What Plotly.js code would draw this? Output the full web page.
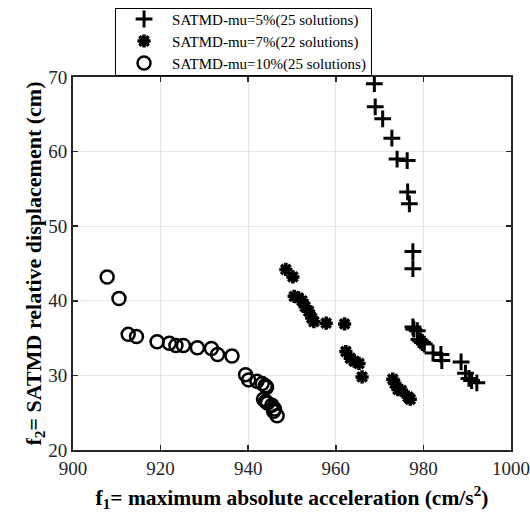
<!DOCTYPE html>
<html><head><meta charset="utf-8">
<script src="https://cdn.plot.ly/plotly-3.0.1.min.js"></script>
<style>body{margin:0;padding:0;background:#fff}#chart{width:530px;height:522px}</style>
</head><body><div id="chart"></div>
<script>
const names = ['SATMD-mu=5%(25 solutions)', 'SATMD-mu=7%(22 solutions)', 'SATMD-mu=10%(25 solutions)'];
const mu5_x = [968.8, 969.0, 970.7, 972.8, 974.0, 976.3, 976.4, 976.8, 977.6, 977.6, 977.6, 977.8, 978.6, 979.0, 979.4, 979.8, 980.2, 982.2, 984.0, 984.2, 988.6, 989.6, 990.4, 991.0, 992.2];
const mu5_y = [69.1, 66.0, 64.4, 61.8, 59.0, 58.8, 54.6, 53.0, 46.6, 44.3, 36.5, 36.2, 36.0, 34.8, 34.6, 34.4, 34.2, 33.0, 32.8, 32.0, 31.8, 30.3, 29.6, 29.3, 29.0];
const mu7_x = [948.6, 950.2, 950.5, 951.5, 952.3, 953.0, 953.8, 954.5, 955.0, 957.8, 962.0, 962.3, 963.3, 964.2, 965.3, 966.0, 973.0, 973.5, 974.2, 975.0, 976.5, 977.0];
const mu7_y = [44.2, 43.2, 40.6, 40.4, 40.0, 39.2, 38.6, 37.7, 37.2, 37.0, 36.9, 33.2, 32.3, 31.9, 31.6, 29.8, 29.5, 28.9, 28.1, 28.0, 27.1, 26.8];
const mu10_x = [907.8, 910.5, 912.6, 914.5, 919.2, 922.0, 923.5, 925.2, 928.4, 931.6, 933.0, 936.3, 939.4, 940.1, 942.0, 943.2, 943.9, 944.2, 943.5, 944.0, 944.4, 945.4, 946.0, 945.8, 946.6];
const mu10_y = [43.2, 40.3, 35.5, 35.2, 34.5, 34.3, 34.0, 34.0, 33.7, 33.6, 32.8, 32.6, 30.1, 29.4, 29.2, 28.9, 28.6, 28.4, 26.8, 26.5, 26.3, 26.0, 25.5, 25.2, 24.6];
const xTicks = [900, 920, 940, 960, 980, 1000];
const yTicks = [20, 30, 40, 50, 60, 70];

const serif = 'Liberation Serif, Times New Roman, serif';
const traces = [
  {x: mu5_x, y: mu5_y, name: names[0], mode: 'markers', type: 'scatter',
   marker: {symbol: 'cross-thin-open', size: 12, color: '#000', line: {width: 3, color: '#000'}}},
  {x: mu7_x, y: mu7_y, name: names[1], mode: 'markers', type: 'scatter',
   marker: {symbol: 'asterisk-open', size: 11, color: '#000', line: {width: 3.5, color: '#000'}}},
  {x: mu10_x, y: mu10_y, name: names[2], mode: 'markers', type: 'scatter',
   marker: {symbol: 'circle-open', size: 13, color: '#000', line: {width: 2.5, color: '#000'}}}
];
const axisCommon = {
  showline: true, mirror: 'ticks', linecolor: '#262626', linewidth: 2,
  ticks: 'inside', ticklen: 5, tickwidth: 1.5, tickcolor: '#262626',
  showgrid: true, gridcolor: '#e6e6e6', gridwidth: 1, zeroline: false,
  tickfont: {family: serif, size: 19, color: '#262626'}
};
const layout = {
  width: 530, height: 522,
  font: {family: serif},
  margin: {l: 73, r: 19, t: 77, b: 72, autoexpand: false},
  paper_bgcolor: '#fff', plot_bgcolor: '#fff',
  showlegend: true,
  legend: {x: 0.096, y: 1.185, xanchor: 'left', yanchor: 'top',
    bgcolor: '#fff', bordercolor: '#000', borderwidth: 1,
    font: {family: serif, size: 15, color: '#000'}, tracegroupgap: 0, itemwidth: 46},
  xaxis: Object.assign({}, axisCommon, {range: [900, 1000], tickvals: xTicks, ticktext: xTicks.map(String),
    title: {text: '<b>f<sub>1</sub>= maximum absolute acceleration (cm/s<sup>2</sup>)</b>', font: {family: serif, size: 21.5, color: '#000'}, standoff: 12}}),
  yaxis: Object.assign({}, axisCommon, {range: [20, 70], tickvals: yTicks, ticktext: yTicks.map(String),
    title: {text: '<b>f<sub>2</sub>= SATMD relative displacement (cm)</b>', font: {family: serif, size: 22, color: '#000'}, standoff: 1}})
};
Plotly.newPlot('chart', traces, layout, {displayModeBar: false, staticPlot: true}).then(gd => {
  // tighten legend row spacing to match the reference
  const items = gd.querySelectorAll('.legend .traces');
  const parse = el => {
    const m = /translate\(\s*([-\d.e]+)[\s,]+([-\d.e]+)\s*\)/.exec(el.getAttribute('transform') || '');
    return m ? [parseFloat(m[1]), parseFloat(m[2])] : [0, 0];
  };
  const rowGap = 22, firstY = 11;
  items.forEach((el, i) => {
    const p = parse(el);
    el.setAttribute('transform', 'translate(' + p[0] + ',' + (firstY + i * rowGap) + ')');
  });
  const bg = gd.querySelector('.legend .bg');
  if (bg) bg.setAttribute('height', firstY + (items.length - 1) * rowGap + 12);
});
</script></body></html>
